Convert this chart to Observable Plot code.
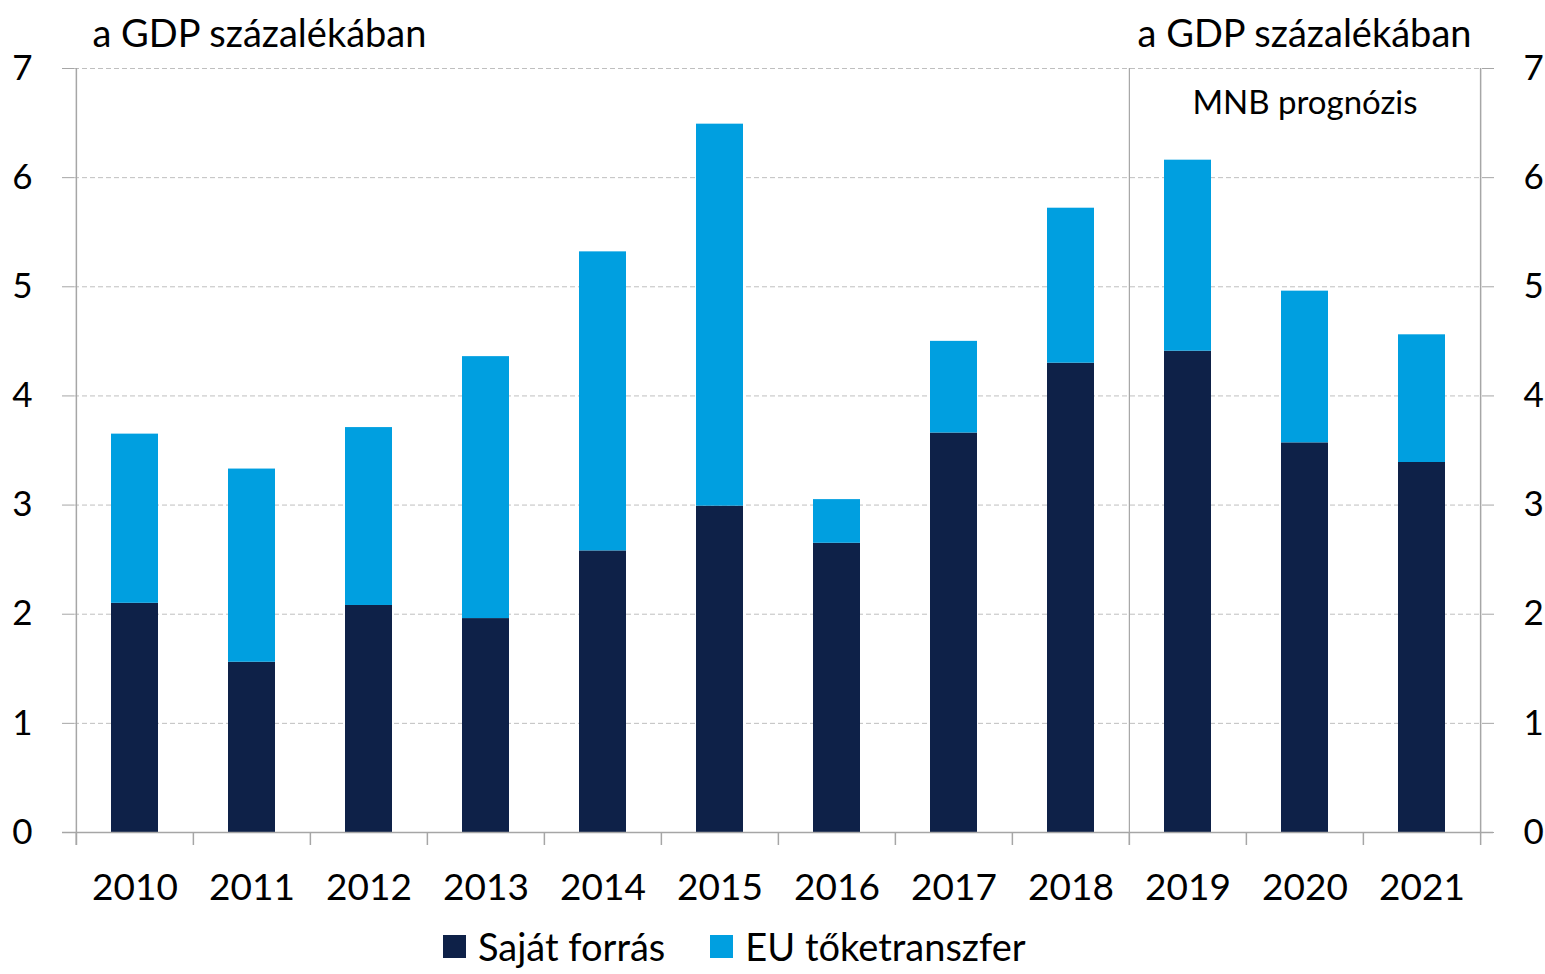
<!DOCTYPE html>
<html><head><meta charset="utf-8">
<script src="https://cdn.jsdelivr.net/npm/d3@7"></script>
<script src="https://cdn.jsdelivr.net/npm/@observablehq/plot@0.6"></script>
<style>
html,body{margin:0;padding:0;background:#fff;overflow:hidden;}
body{font-family:Lato,"Open Sans",sans-serif;color:#000;width:1545px;height:974px;}
#legend{display:flex;align-items:center;margin-left:443px;margin-top:0;font-size:38px;line-height:40px;height:40px;}
#legend .item{display:flex;align-items:center;margin-right:45px;}
#legend .sw{width:23px;height:23px;margin-right:12px;}
</style></head>
<body><div id="chart"></div><div id="legend"></div>
<script>
const years = ["2010","2011","2012","2013","2014","2015","2016","2017","2018","2019","2020","2021"];
const sajatForras = [2.10, 1.56, 2.08, 1.96, 2.58, 2.99, 2.65, 3.66, 4.30, 4.41, 3.57, 3.39];
const euToketranszfer = [1.55, 1.77, 1.63, 2.40, 2.74, 3.50, 0.40, 0.84, 1.42, 1.75, 1.39, 1.17];
const yTicks = [0, 1, 2, 3, 4, 5, 6, 7];
const seriesNames = ["Saját forrás", "EU tőketranszfer"];
const seriesColors = ["#0e2148", "#009fe0"];
const unitLabel = "a GDP százalékában";
const forecastLabel = "MNB prognózis";
const forecastStart = "2019";
const forecastMid = "2020";

const W = 1545, H = 926, ML = 74, MR = 64, MT = 68, MB = 94;
const step = (W - ML - MR) / years.length;
const axisColor = "#a6a6a6";

const rows = [
  ...years.map((y, i) => ({year: y, series: seriesNames[0], value: sajatForras[i]})),
  ...years.map((y, i) => ({year: y, series: seriesNames[1], value: euToketranszfer[i]}))
];

const chart = Plot.plot({
  width: W, height: H,
  marginLeft: ML, marginRight: MR, marginTop: MT, marginBottom: MB,
  style: {fontFamily: "Lato, 'Open Sans', sans-serif", color: "#000", background: "#fff", overflow: "visible"},
  x: {domain: years, padding: 0, axis: null},
  y: {domain: [0, 7], axis: null},
  color: {domain: seriesNames, range: seriesColors},
  marks: [
    Plot.gridY(yTicks.filter(d => d > 0), {stroke: "#bfbfbf", strokeOpacity: 1, strokeDasharray: "5,3"}),
    Plot.barY(rows, {x: "year", y: "value", fill: "series", insetLeft: 35, insetRight: 35}),
    Plot.ruleY([0], {stroke: axisColor, strokeWidth: 1.5, insetLeft: -12, insetRight: -12}),
    Plot.ruleX(years, {dx: -step / 2, y1: 0, y2: 0, insetBottom: -13, stroke: axisColor, strokeWidth: 1.5}),
    Plot.ruleX([years[0]], {dx: -step / 2, y1: 7, y2: 0, insetBottom: -13, stroke: axisColor, strokeWidth: 1.5}),
    Plot.ruleX([years[years.length - 1]], {dx: step / 2, y1: 7, y2: 0, insetBottom: -13, stroke: axisColor, strokeWidth: 1.5}),
    Plot.ruleX([forecastStart], {dx: -step / 2, y1: 7, y2: 0, insetBottom: -13, stroke: axisColor, strokeWidth: 1.2}),
    Plot.axisY(yTicks, {anchor: "left", tickSize: 12, tickPadding: 30, tickFormat: d3.format("d"), stroke: axisColor, fill: "#000", fontSize: 35, label: null}),
    Plot.axisY(yTicks, {anchor: "right", tickSize: 12, tickPadding: 30, tickFormat: d3.format("d"), stroke: axisColor, fill: "#000", fontSize: 35, label: null}),
    Plot.axisX(years, {tickSize: 0, tickPadding: 41, fill: "#000", fontSize: 37, label: null}),
    Plot.text([unitLabel], {frameAnchor: "top-left", textAnchor: "start", lineAnchor: "top", dx: 18, dy: -48, fontSize: 38, fill: "#000"}),
    Plot.text([unitLabel], {frameAnchor: "top-right", textAnchor: "end", lineAnchor: "top", dx: -10, dy: -48, fontSize: 38, fill: "#000"}),
    Plot.text([forecastLabel], {x: () => forecastMid, y: () => 7, lineAnchor: "top", dy: 22, fontSize: 33, fill: "#000"})
  ]
});
document.getElementById("chart").appendChild(chart);

const legend = document.getElementById("legend");
seriesNames.forEach((name, i) => {
  const item = document.createElement("div");
  item.className = "item";
  const sw = document.createElement("span");
  sw.className = "sw";
  sw.style.background = seriesColors[i];
  const t = document.createElement("span");
  t.textContent = name;
  item.appendChild(sw); item.appendChild(t);
  legend.appendChild(item);
});
</script>
</body></html>
